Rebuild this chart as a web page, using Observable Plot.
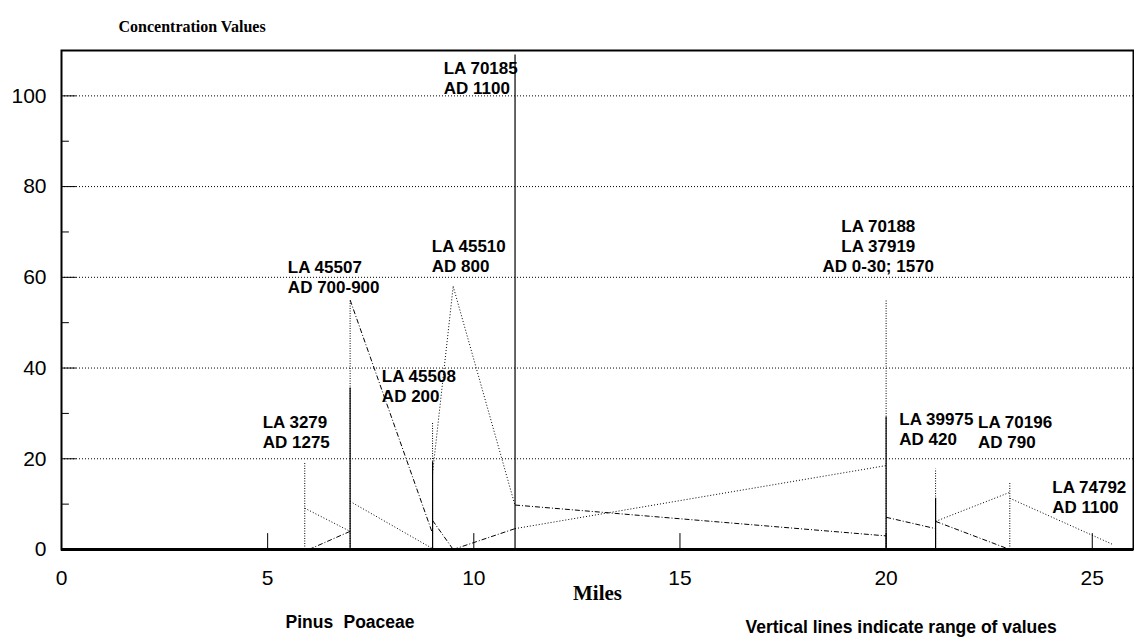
<!DOCTYPE html>
<html><head><meta charset="utf-8">
<script src="https://cdn.jsdelivr.net/npm/d3@7"></script>
<script src="https://cdn.jsdelivr.net/npm/@observablehq/plot@0.6"></script>
<style>body{margin:0;background:#fff;}</style>
</head><body><div id="chart"></div>
<script>
// ---- axis ticks ----
const xTicks = [0, 5, 10, 15, 20, 25];
const yTicks = [0, 20, 40, 60, 80, 100];
const yMinorTicks = [10, 30, 50, 70, 90];
const gridValues = [20, 40, 60, 80, 100];

// ---- range lines at sites (miles, max value; min is 0) ----
const siteMiles      = [5.9, 7.0, 9.0, 11.0, 20.0, 21.2, 23.0];
const pinusRangeMax  = [null, 35.6, 19.3, 109, 29.2, 11.3, null];
const poaceaeRangeMax= [19.3, 54.7, 27.9, null, 55.0, 17.7, 14.8];

// ---- connecting segments: [fromMile, fromValue, toMile, toValue] ----
const pinusSegments = [
  [6.0, 0, 7.0, 4.0],
  [7.0, 55, 9.0, 3.5],
  [9.0, 6.4, 9.5, 0],
  [9.5, 0, 11.0, 4.6],
  [11.0, 9.8, 20.0, 3.0],
  [20.0, 7.1, 21.2, 4.6],
  [21.2, 6.2, 23.0, 0]
];
const poaceaeSegments = [
  [5.9, 9.1, 7.0, 4.0],
  [7.0, 10.6, 9.0, 0.2],
  [9.0, 16.8, 9.5, 58],
  [9.5, 58, 11.0, 9.7],
  [11.0, 4.6, 20.0, 18.5],
  [21.2, 6.2, 23.0, 12.6],
  [23.0, 11.3, 25.5, 1.1]
];

// ---- site labels ----
const labelText  = ["LA 3279\nAD 1275", "LA 45507\nAD 700-900", "LA 45508\nAD 200", "LA 45510\nAD 800",
                    "LA 70185\nAD 1100", "LA 39975\nAD 420", "LA 70196\nAD 790", "LA 74792\nAD 1100"];
const labelMile  = [4.88, 5.49, 7.77, 8.98, 9.27, 20.32, 22.23, 24.03];
const labelValue = [30.0, 64.0, 40.0, 68.8, 108.0, 30.5, 30.0, 15.6];
const centerLabelText = ["LA 70188\nLA 37919\nAD 0-30; 1570"];
const centerLabelMile = [19.81];
const centerLabelValue = [73.2];

// ---- legend / captions ----
const seriesNames = ["Pinus", "Poaceae"];

const tickShape = {draw(context, l) { context.moveTo(0, 0); context.lineTo(0, -l); }};
const idx = (arr) => arr.map((_, i) => i);
const pinusRangeIdx = idx(siteMiles).filter(i => pinusRangeMax[i] != null);
const poaceaeRangeIdx = idx(siteMiles).filter(i => poaceaeRangeMax[i] != null);

const bold = {fontWeight: "bold", fontSize: 17, fill: "#000"};
const serif = "'Liberation Serif', 'Times New Roman', serif";

const chart = Plot.plot({
  width: 1134, height: 642,
  marginTop: 50, marginBottom: 93, marginLeft: 61, marginRight: 1,
  x: {domain: [0, 26], axis: null},
  y: {domain: [0, 110], axis: null},
  style: {fontFamily: "'Liberation Sans', Arial, sans-serif", fontSize: "17px", color: "#000", background: "#fff"},
  marks: [
    Plot.ruleY(gridValues, {stroke: "#000", strokeWidth: 1, strokeDasharray: "1,2"}),
    // range lines
    Plot.ruleX(poaceaeRangeIdx, {x: i => siteMiles[i], y1: 0, y2: i => poaceaeRangeMax[i], stroke: "#000", strokeWidth: 1, strokeDasharray: "1,1.5"}),
    Plot.ruleX(pinusRangeIdx, {x: i => siteMiles[i], y1: 0, y2: i => pinusRangeMax[i], stroke: "#000", strokeWidth: 1.2}),
    // connecting lines
    Plot.link(pinusSegments, {x1: d => d[0], y1: d => d[1], x2: d => d[2], y2: d => d[3], stroke: "#000", strokeWidth: 1, strokeDasharray: "5,2,1,2"}),
    Plot.link(poaceaeSegments, {x1: d => d[0], y1: d => d[1], x2: d => d[2], y2: d => d[3], stroke: "#000", strokeWidth: 1, strokeDasharray: "1,2"}),
    // inner ticks
    Plot.vector(xTicks.slice(1), {x: d => d, frameAnchor: "bottom", length: 16, anchor: "start", shape: tickShape, stroke: "#000", strokeWidth: 1}),
    Plot.vector(yTicks.slice(1), {y: d => d, frameAnchor: "left", rotate: 90, length: 14, anchor: "start", shape: tickShape, stroke: "#000", strokeWidth: 1}),
    Plot.vector(yMinorTicks, {y: d => d, frameAnchor: "left", rotate: 90, length: 7, anchor: "start", shape: tickShape, stroke: "#000", strokeWidth: 1}),
    // axes labels
    Plot.axisX(xTicks, {tickSize: 0, tickPadding: 21, label: null, fontSize: 21}),
    Plot.axisY(yTicks, {tickSize: 0, tickPadding: 15, label: null, fontSize: 21}),
    Plot.frame({stroke: "#000", strokeWidth: 2}),
    Plot.ruleY([0], {stroke: "#000", strokeWidth: 3}),
    // site labels
    Plot.text(idx(labelText), {x: i => labelMile[i], y: i => labelValue[i], text: i => labelText[i], textAnchor: "start", lineAnchor: "top", lineHeight: 1.18, ...bold}),
    Plot.text(idx(centerLabelText), {x: i => centerLabelMile[i], y: i => centerLabelValue[i], text: i => centerLabelText[i], textAnchor: "middle", lineAnchor: "top", lineHeight: 1.18, ...bold}),
    // titles and captions
    Plot.text(["Concentration Values"], {frameAnchor: "top-left", dx: 57, dy: -30, textAnchor: "start", fontFamily: serif, fontWeight: "bold", fontSize: 16}),
    Plot.text(["Miles"], {frameAnchor: "bottom", dy: 50, fontFamily: serif, fontWeight: "bold", fontSize: 21}),
    Plot.text([seriesNames[0]], {frameAnchor: "bottom-left", dx: 224, dy: 78, textAnchor: "start", fontWeight: "bold", fontSize: 17.5}),
    Plot.text([seriesNames[1]], {frameAnchor: "bottom-left", dx: 282, dy: 78, textAnchor: "start", fontWeight: "bold", fontSize: 17.5}),
    Plot.text(["Vertical lines indicate range of values"], {frameAnchor: "bottom-left", dx: 684, dy: 83, textAnchor: "start", fontWeight: "bold", fontSize: 17.5})
  ]
});
document.getElementById("chart").appendChild(chart);
</script>
</body></html>
